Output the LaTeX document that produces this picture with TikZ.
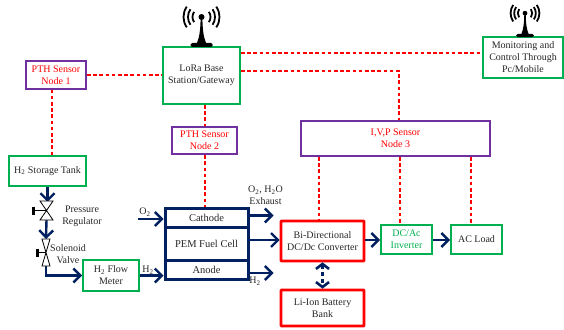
\documentclass[tikz,border=0pt]{standalone}
\usepackage{fontspec}
\setmainfont{Liberation Serif}
\usetikzlibrary{
  arrows.meta,
  calc
}
\definecolor{loragreen}{RGB}{0,176,80}
\definecolor{sensorpurple}{RGB}{112,48,160}
\definecolor{pipeblue}{RGB}{0,32,96}
\tikzset{
	box/.style={draw,inner sep=0pt,align=center,text=black!85,font=\fontsize{10}{12}\selectfont},
	greenbox/.style={box,draw=loragreen,line width=1.8pt},
	sensorbox/.style={box,draw=sensorpurple,line width=1.8pt,text=red},
	powerbox/.style={box,draw=red,line width=2.6pt,rounded corners=0.5pt},
	cellbox/.style={box,draw=pipeblue,line width=3pt,minimum width=83pt,font=\fontsize{10.5}{12}\selectfont},
	label/.style={inner sep=0pt,align=center,text=black!85,font=\fontsize{10}{12}\selectfont},
	radio/.style={red,line width=2pt,dash pattern=on 3.6pt off 2.6pt},
	pipe/.style={pipeblue,line width=2.4pt,-{Straight Barb[length=7pt,width=14pt,line width=2.4pt]}},
	valve/.style={draw,fill=white,line width=0.8pt},
	antenna/.pic={
		\fill (-4.5,0) .. controls (-2,-6) and (-1,-14) .. (-0.9,-25) -- (0.9,-25) .. controls (1,-14) and (2,-6) .. (4.5,0) -- cycle;
		\fill (0,-26) circle (3);
		\fill[rounded corners=1.5pt] (-11,0) rectangle (11,4);
		\foreach \r in {9,13.5,18}{
			\draw[line width=1.8pt] ($(0,-26)+(-35:\r)$) arc (-35:35:\r);
			\draw[line width=1.8pt] ($(0,-26)+(145:\r)$) arc (145:215:\r);
		}
	},
}

\begin{document}
\begin{tikzpicture}[x=1pt,y=-1pt]
	\useasboundingbox (0,0) rectangle (564,329);

	\node[greenbox,minimum width=77pt,minimum height=57pt] (lora) at (201.5,75.5) {LoRa Base\\Station/Gateway};
	\node[greenbox,minimum width=80pt,minimum height=41pt] (monitor) at (523,57.5) {Monitoring and\\Control Through\\Pc/Mobile};
	\node[sensorbox,minimum width=60pt,minimum height=27.5pt] (pthone) at (56,75) {PTH Sensor\\Node 1};
	\node[sensorbox,minimum width=65pt,minimum height=27.5pt] (pthtwo) at (204.5,140.5) {PTH Sensor\\Node 2};
	\node[sensorbox,minimum width=189pt,minimum height=35pt] (ivp) at (395.5,138.5) {I,V,P Sensor\\Node 3};
	\node[greenbox,minimum width=77pt,minimum height=30pt] (tank) at (47.5,171) {H\textsubscript{2} Storage Tank};
	\node[greenbox,minimum width=56pt,minimum height=31pt] (meter) at (111,275.5) {H\textsubscript{2} Flow\\Meter};

	\node[cellbox,minimum height=19pt] (cathode) at (206.5,217.5) {Cathode};
	\node[cellbox,minimum height=33pt] (pem) at (206.5,243.5) {PEM Fuel Cell};
	\node[cellbox,minimum height=19pt] (anode) at (206.5,269.5) {Anode};

	\node[powerbox,minimum width=83pt,minimum height=40pt] (conv) at (322.5,241) {Bi-Directional\\DC/Dc Converter};
	\node[powerbox,minimum width=83pt,minimum height=36pt] (batt) at (322.5,308) {Li-Ion Battery\\Bank};
	\node[greenbox,text=loragreen,minimum width=51pt,minimum height=29pt] (inv) at (406.5,239.5) {DC/Ac\\Inverter};
	\node[greenbox,minimum width=51pt,minimum height=29pt] (load) at (476.5,239.5) {AC Load};

	\path (46.5,210.5) coordinate (regulator);
	\path (46,252.5) coordinate (solenoid);

	\draw[radio] (pthone.east) -- (lora.west |- pthone.east);
	\draw[radio] (pthone.south -| 52,0) -- (tank.north -| 52,0);
	\draw[radio] ([yshift=22.5pt]lora.east) -- (monitor.west |- 0,53);
	\draw[radio] ([yshift=4.5pt]lora.east) -| (ivp.north -| 399,0);
	\draw[radio] (lora.south -| 205,0) -- (pthtwo.north -| 205,0);
	\draw[radio] (pthtwo.south -| 205,0) -- (cathode.north -| 205,0);
	\draw[radio] (ivp.south -| 319,0) -- (conv.north -| 319,0);
	\draw[radio] (ivp.south -| 400,0) -- (inv.north -| 400,0);
	\draw[radio] (ivp.south -| 471,0) -- (load.north -| 471,0);

	\draw[pipe] (tank.south) -- ++(0,15);
	\draw[pipe] ($(regulator)+(0,9.5)$) -- ($(solenoid)+(0,-13.5)$);
	\draw[pipe] ($(solenoid)+(0,13.5)$) |- (meter.west);
	\draw[pipe] (meter.east) -- (anode.west |- meter.east);
	\coordinate (oxygen) at (138,219);
	\draw[pipe] (oxygen) -- (cathode.west |- oxygen);
	\draw[pipe] (cathode.east) ++(0,-2) -- ++(24,0);
	\draw[pipe] (pem.east) ++(0,-3.5) -- (conv.west |- 0,240);
	\draw[pipe] (anode.east) ++(0,3.5) -- ++(24,0);
	\draw[pipe] (conv.east) ++(0,-1) -- (inv.west |- 0,240);
	\draw[pipe] (inv.east) ++(0,0.5) -- (load.west |- 0,240);
	\draw[pipeblue,line width=2.6pt,dash pattern=on 4pt off 3pt,{Straight Barb[length=5pt,width=13pt,line width=2.6pt]}-{Straight Barb[length=5pt,width=13pt,line width=2.6pt]}] (conv.south) -- (batt.north);

	\draw[valve] ($(regulator)+(-6.5,-9.5)$) -- ($(regulator)+(6.5,-9.5)$) -- ($(regulator)+(-6.5,9.5)$) -- ($(regulator)+(6.5,9.5)$) -- cycle;
	\draw[valve] ($(solenoid)+(-4,-13.5)$) -- ($(solenoid)+(4,-13.5)$) -- ($(solenoid)+(-4,13.5)$) -- ($(solenoid)+(4,13.5)$) -- cycle;
	\draw[line width=1.8pt] (regulator) -- ++(-13,0);
	\draw[line width=2.4pt] ($(regulator)+(-13,-4)$) -- ++(0,8);
	\draw[line width=1.8pt] (solenoid) -- ++(-8.5,0);
	\draw[line width=2.4pt] ($(solenoid)+(-8.5,-4)$) -- ++(0,8);

	\node[label] (regulatortext) at (82,216.5) {Pressure\\Regulator};
	\node[label] (solenoidtext) at (68,254.5) {Solenoid\\Valve};
	\node[label] (oxygentext) at (145,212) {O\textsubscript{2}};
	\node[label] (hydrogenin) at (148,270) {H\textsubscript{2}};
	\node[label,anchor=west] (exhausttext) at (248,195.5) {O\textsubscript{2}, H\textsubscript{2}O\\Exhaust};
	\node[label] (hydrogenout) at (255,281) {H\textsubscript{2}};

	\path (201.5,43) pic {antenna};
	\path (525,34) pic[scale=0.8] {antenna};
\end{tikzpicture}
\end{document}
